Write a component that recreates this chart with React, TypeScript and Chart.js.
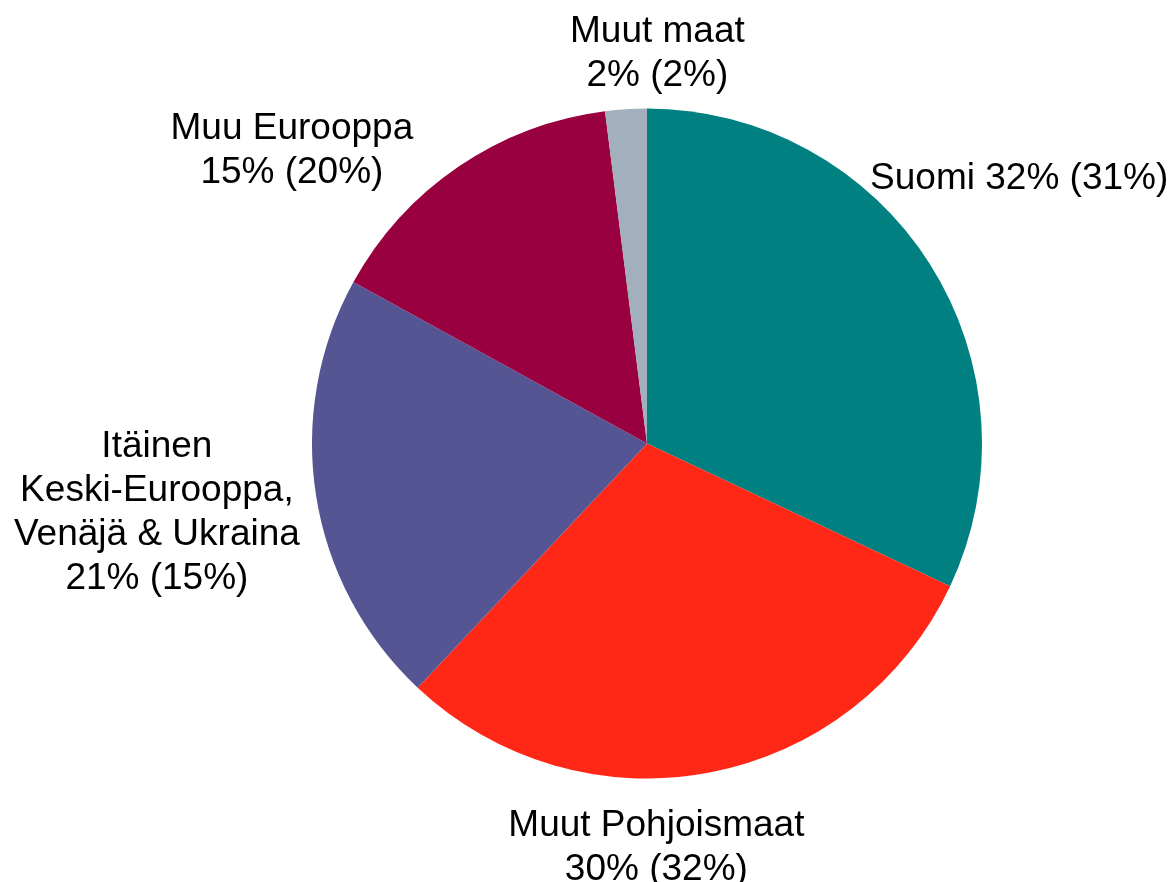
import React, { useEffect, useRef } from "react";
import { Chart, registerables } from "chart.js";

Chart.register(...registerables);

const categories = [
  ["Suomi 32% (31%)"],
  ["Muut Pohjoismaat", "30% (32%)"],
  ["Itäinen", "Keski-Eurooppa,", "Venäjä & Ukraina", "21% (15%)"],
  ["Muu Eurooppa", "15% (20%)"],
  ["Muut maat", "2% (2%)"],
];
const shares = [32, 30, 21, 15, 2];
const colors = ["#008080", "#FF2817", "#565594", "#990040", "#A2B0BD"];
// label block centre, relative to pie centre, in units of the pie radius
const labelOffsets = [
  [1.111, -0.799],
  [0.028, 1.198],
  [-1.463, 0.198],
  [-1.06, -0.884],
  [0.031, -1.173],
];

const FONT_SIZE = 37;
const LINE_H = 44;
const CAP_H = 26.5;

const labelPlugin = {
  id: "outsideLabels",
  afterDatasetsDraw(chart: any) {
    const meta = chart.getDatasetMeta(0);
    const ctx = chart.ctx;
    ctx.save();
    ctx.fillStyle = "#000000";
    ctx.font = `${FONT_SIZE}px "Liberation Sans", Arial, sans-serif`;
    ctx.textAlign = "center";
    ctx.textBaseline = "alphabetic";
    meta.data.forEach((arc: any, i: number) => {
      const r = arc.outerRadius;
      const cx = arc.x + labelOffsets[i][0] * r;
      const cy = arc.y + labelOffsets[i][1] * r;
      const lines = categories[i];
      const blockH = (lines.length - 1) * LINE_H + CAP_H;
      const first = cy - blockH / 2 + CAP_H;
      lines.forEach((t, j) => ctx.fillText(t, cx, first + j * LINE_H));
    });
    ctx.restore();
  },
};

export default function App() {
  const ref = useRef<HTMLCanvasElement>(null);
  useEffect(() => {
    if (!ref.current) return;
    const chart = new Chart(ref.current, {
      type: "pie",
      data: {
        labels: categories.map((c) => c.join(" ")),
        datasets: [
          {
            data: shares,
            backgroundColor: colors,
            borderWidth: 0,
          },
        ],
      },
      options: {
        responsive: false,
        animation: false,
        layout: { padding: { left: 312, right: 191, top: 108.5, bottom: 103.5 } },
        plugins: {
          legend: { display: false },
          tooltip: { enabled: false },
        },
      },
      plugins: [labelPlugin],
    });
    return () => chart.destroy();
  }, []);
  return (
    <div style={{ position: "fixed", left: 0, top: 0, width: 1173, height: 882, background: "#fff" }}>
      <canvas ref={ref} width={1173} height={882} />
    </div>
  );
}
